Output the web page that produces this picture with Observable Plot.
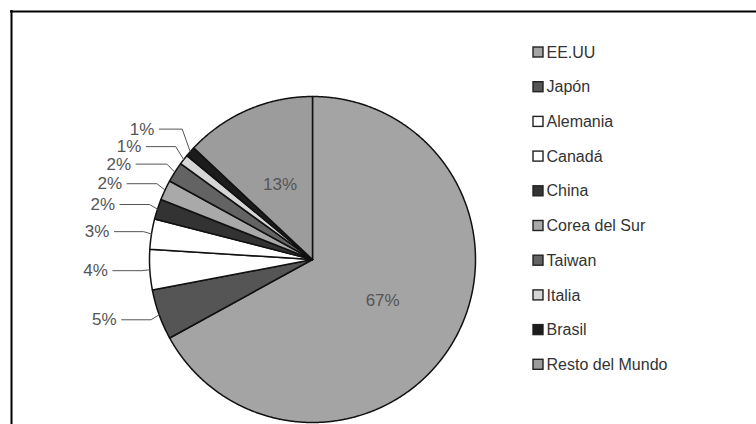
<!DOCTYPE html>
<html>
<head>
<meta charset="utf-8">
<script src="https://cdn.jsdelivr.net/npm/d3@7"></script>
<script src="https://cdn.jsdelivr.net/npm/@observablehq/plot@0.6"></script>
<style>
  html, body { margin: 0; padding: 0; background: #fff; }
  #chart svg { display: block; font-family: "Liberation Sans", Arial, sans-serif; }
</style>
</head>
<body>
<div id="chart"></div>
<script>
// Share of the market by country (percent)
const countries = ["EE.UU", "Japón", "Alemania", "Canadá", "China", "Corea del Sur", "Taiwan", "Italia", "Brasil", "Resto del Mundo"];
const shares = [67, 5, 4, 3, 2, 2, 2, 1, 1, 13];
const fills = ["#a4a4a4", "#555555", "#ffffff", "#ffffff", "#333333", "#a9a9a9", "#636363", "#d6d6d6", "#1c1c1c", "#9c9c9c"];

const W = 756, H = 424;
const cx = 312, cy = 259, r = 163;          // pie centre and radius (px)
const legendX = 533, legendY = 52, legendStep = 34.7, swatch = 10;

const total = d3.sum(shares);
const pt = (a, rad) => [cx + rad * Math.sin(a), cy - rad * Math.cos(a)];

// slices run clockwise from 12 o'clock
let acc = 0;
const slices = countries.map((country, i) => {
  const a0 = acc / total * 2 * Math.PI;
  acc += shares[i];
  const a1 = acc / total * 2 * Math.PI;
  return {country, share: shares[i], a0, a1, mid: (a0 + a1) / 2, i};
});

// wedge outlines: centre -> arc -> centre
const wedgePts = slices.flatMap(s => {
  const n = Math.max(4, Math.ceil((s.a1 - s.a0) / 0.005));
  const pts = [[cx, cy]];
  for (let k = 0; k <= n; k++) pts.push(pt(s.a0 + (s.a1 - s.a0) * k / n, r));
  pts.push([cx, cy]);
  return pts.map(([x, y]) => ({x, y, country: s.country}));
});

// inside labels for the two large slices
const inside = slices.filter(s => s.share >= 10).map(s => {
  const [x, y] = pt(s.mid, r * 0.5);
  return {x, y, label: s.share + "%"};
});

// outside labels for the small slices, stacked upward so they don't collide,
// then set on a circle just outside the pie
const outside = slices.filter(s => s.share < 10).map(s => {
  const [ex, ey] = pt(s.mid, r);
  return {...s, ex, ey, ly: cy - Math.cos(s.mid) * (r + 15)};
});
for (let k = 1; k < outside.length; k++) {
  if (outside[k - 1].ly - outside[k].ly < 17.5) outside[k].ly = outside[k - 1].ly - 17.5;
}
const R = r + 42;
for (const o of outside) o.lx = cx - Math.sqrt(R * R - (o.ly - cy) ** 2);

const leaders = outside.flatMap(o => {
  const xa = o.lx + 5, xb = Math.max(xa, o.ex - 8);
  return [
    {x: xa, y: o.ly, c: o.country},
    {x: xb, y: o.ly, c: o.country},
    {x: o.ex, y: o.ey, c: o.country}
  ];
});

const legend = countries.map((country, i) => ({country, y: legendY + i * legendStep}));

const chart = Plot.plot({
  width: W,
  height: H,
  margin: 0,
  x: {domain: [0, W], range: [0, W], axis: null},
  y: {domain: [0, H], range: [0, H], axis: null},
  color: {type: "ordinal", domain: countries, range: fills},
  style: {background: "#fff"},
  marks: [
    // chart area border (left and top edges)
    Plot.ruleX([11], {y1: 10, y2: H, stroke: "#000", strokeWidth: 2}),
    Plot.ruleY([11], {x1: 10, x2: W, stroke: "#000", strokeWidth: 2}),
    // pie wedges
    Plot.line(wedgePts, {x: "x", y: "y", z: "country", fill: "country", stroke: "#111", strokeWidth: 1.5, strokeLinejoin: "round", curve: "linear"}),
    // leader lines
    Plot.line(leaders, {x: "x", y: "y", z: "c", stroke: "#555", strokeWidth: 1}),
    Plot.text(outside, {x: "lx", y: "ly", text: d => d.share + "%", textAnchor: "end", fill: "#555", fontSize: 17}),
    Plot.text(inside, {x: "x", y: "y", text: "label", fill: "#555", fontSize: 17}),
    // legend
    Plot.rect(legend, {x1: legendX, x2: legendX + swatch, y1: d => d.y - swatch / 2, y2: d => d.y + swatch / 2, fill: "country", stroke: "#222", strokeWidth: 1.4}),
    Plot.text(legend, {x: legendX + swatch + 3, y: "y", text: "country", textAnchor: "start", fill: "#333", fontSize: 16})
  ]
});
document.getElementById("chart").append(chart);
</script>
</body>
</html>
